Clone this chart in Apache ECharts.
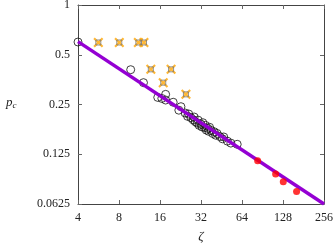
<!DOCTYPE html>
<html>
<head>
<meta charset="utf-8">
<script src="https://cdn.jsdelivr.net/npm/echarts@6/dist/echarts.min.js"></script>
<style>
  html, body { margin: 0; padding: 0; background: #fff; }
  #chart { width: 336px; height: 245px; }
</style>
</head>
<body>
<div id="chart"></div>
<script>
// tick values
var xTicks = [4, 8, 16, 32, 64, 128, 256]
var yTicks = [0.0625, 0.125, 0.25, 0.5, 1]

// fitted power law, end points
var fitLine = [[4, 0.6], [256, 0.0625]]

// open circles
var circlePts = [
  [4, 0.597], [9.75, 0.406], [12.1, 0.339], [15.4, 0.276], [16.5, 0.272],
  [17.6, 0.266], [17.6, 0.288], [20, 0.258], [22.8, 0.2425], [22, 0.231],
  [24.5, 0.222], [25.5, 0.212], [26, 0.219], [27, 0.208], [28, 0.202],
  [28.5, 0.21], [29, 0.197], [30, 0.193], [30.5, 0.201], [31, 0.187],
  [32, 0.19], [32.5, 0.183], [33, 0.194], [34, 0.181], [34.5, 0.187],
  [35, 0.175], [36, 0.179], [36.5, 0.172], [37, 0.182], [38, 0.174],
  [39, 0.167], [40, 0.171], [41, 0.163], [42, 0.167], [44, 0.16],
  [46, 0.155], [47, 0.159], [50, 0.15], [53, 0.146], [59, 0.1436]
]

// orange crosses
var crossPts = [
  [5.64, 0.593], [8.04, 0.593], [11.1, 0.593], [12.2, 0.593],
  [13.7, 0.408], [19.3, 0.408], [16.9, 0.339], [24.8, 0.288]
]

// red dots
var redPts = [[83.4, 0.114], [113, 0.0949], [128.6, 0.0852], [161, 0.0745]]

var font = "Liberation Serif"
var crossPath = "path://M0,1.5L1.5,0L5,3.5L8.5,0L10,1.5L6.5,5L10,8.5L8.5,10L5,6.5L1.5,10L0,8.5L3.5,5Z"

function xAxisCfg(pos, showLabel) {
  return {
    type: "log", logBase: 2, min: 4, max: 256, position: pos,
    axisLine: { show: true, lineStyle: { color: "#444", width: 1 } },
    axisTick: { show: true, inside: true, length: 4, lineStyle: { color: "#666" } },
    axisLabel: { show: showLabel, color: "#222", fontFamily: font, fontSize: 12, margin: 8 },
    splitLine: { show: false },
    name: showLabel ? "ζ" : "",
    nameLocation: "middle", nameGap: 26,
    nameTextStyle: { fontFamily: font, fontStyle: "italic", fontSize: 13, color: "#222" }
  }
}
function yAxisCfg(pos, showLabel) {
  return {
    type: "log", logBase: 2, min: 0.0625, max: 1, position: pos,
    axisLine: { show: true, lineStyle: { color: "#444", width: 1 } },
    axisTick: { show: true, inside: true, length: 4, lineStyle: { color: "#666" } },
    axisLabel: {
      show: showLabel, color: "#222", fontFamily: font, fontSize: 12, margin: 8,
      formatter: function (v) { return String(+v.toPrecision(4)) }
    },
    splitLine: { show: false }
  }
}

var chart = echarts.init(document.getElementById("chart"))
chart.setOption({
  animation: false,
  grid: { left: 78, right: 12, top: 5, bottom: 41, outerBoundsMode: "none" },
  xAxis: [xAxisCfg("bottom", true), xAxisCfg("top", false)],
  yAxis: [yAxisCfg("left", true), yAxisCfg("right", false)],
  graphic: [{
    type: "text", left: 6, top: 96,
    style: {
      text: "{p|p}{c|c}",
      rich: {
        p: { fontFamily: font, fontStyle: "italic", fontSize: 13, fill: "#222" },
        c: { fontFamily: font, fontStyle: "italic", fontSize: 9, fill: "#222", padding: [6, 0, 0, 0] }
      }
    }
  }],
  series: [
    {
      type: "scatter", data: circlePts, z: 2,
      symbol: "circle", symbolSize: 8,
      itemStyle: { color: "rgba(0,0,0,0)", borderColor: "#111", borderWidth: 1 }
    },
    {
      type: "line", data: fitLine, z: 3, symbol: "none",
      lineStyle: { color: "#9400d3", width: 3.5 }
    },
    {
      type: "scatter", data: crossPts, z: 4,
      symbol: crossPath, symbolSize: 10,
      itemStyle: { color: "#ffa500" }
    },
    {
      type: "scatter", data: crossPts, z: 5,
      symbol: "rect", symbolSize: 5,
      itemStyle: { color: "rgba(0,0,0,0)", borderColor: "#777", borderWidth: 1 }
    },
    {
      type: "scatter", data: redPts, z: 6,
      symbol: "circle", symbolSize: 7,
      itemStyle: { color: "#ff0000" }
    }
  ]
})
</script>
</body>
</html>
